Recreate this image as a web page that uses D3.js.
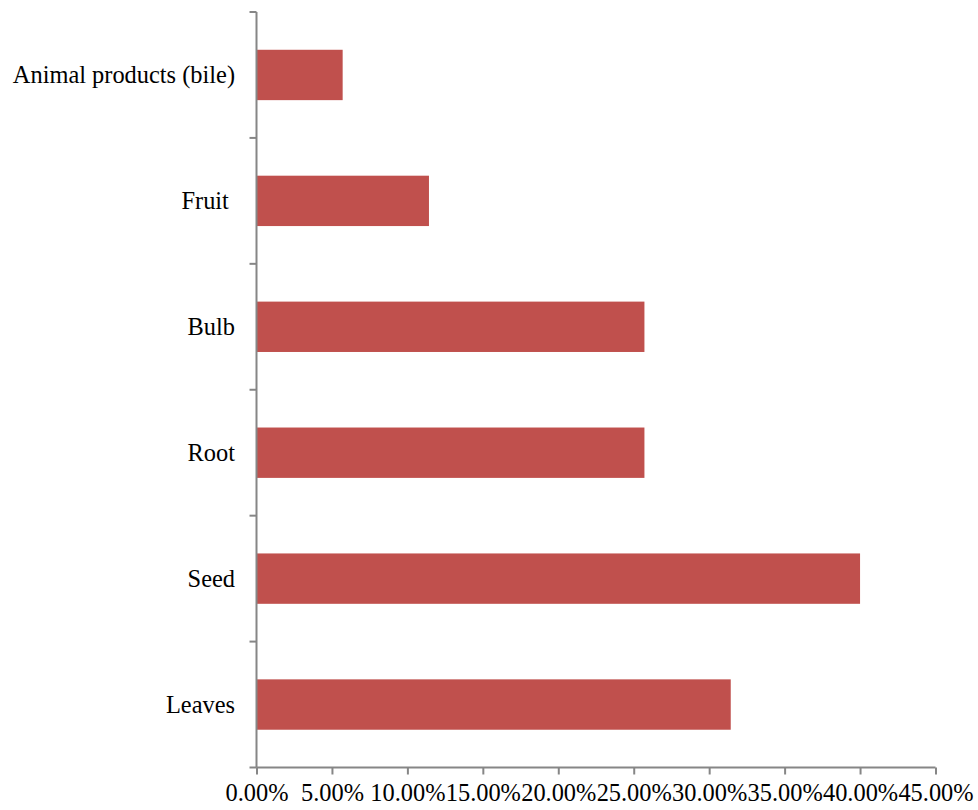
<!DOCTYPE html>
<html><head><meta charset="utf-8">
<script src="https://cdn.jsdelivr.net/npm/d3@7"></script>
<style>body{margin:0;background:#fff}svg{display:block}text{white-space:pre}</style>
</head><body>
<svg id="c" width="978" height="810"></svg>
<script>
const categories = ["Animal products (bile)", "Fruit ", "Bulb", "Root", "Seed", "Leaves"];
const values = [5.71, 11.43, 25.71, 25.71, 40.0, 31.43];
const xTicks = [0, 5, 10, 15, 20, 25, 30, 35, 40, 45];

const svg = d3.select("#c");
const m = {left: 256.5, top: 12, right: 935.5, bottom: 767.5};
const x = d3.scaleLinear().domain([0, 45]).range([m.left, m.right]);
const y = d3.scaleBand().domain(categories).range([m.top, m.bottom]).paddingInner(0.6).paddingOuter(0.3);
const font = "'Liberation Serif','Times New Roman',serif";
const axisColor = "#868686";

svg.selectAll("rect.bar").data(categories).join("rect")
  .attr("x", m.left).attr("y", d => y(d))
  .attr("width", (d, i) => x(values[i]) - x(0))
  .attr("height", y.bandwidth())
  .attr("fill", "#C0504D");

const bounds = d3.range(categories.length + 1).map(i => m.top + i * (m.bottom - m.top) / categories.length);
svg.append("line").attr("x1", m.left).attr("x2", m.left).attr("y1", m.top).attr("y2", m.bottom)
  .attr("stroke", axisColor).attr("stroke-width", 2);
svg.selectAll("line.yt").data(bounds).join("line")
  .attr("x1", m.left - 7).attr("x2", m.left).attr("y1", d => d).attr("y2", d => d)
  .attr("stroke", axisColor).attr("stroke-width", 2);

svg.selectAll("text.yl").data(categories).join("text")
  .attr("x", 235).attr("y", d => y(d) + y.bandwidth() / 2)
  .attr("dy", "0.35em").attr("text-anchor", "end")
  .attr("font-family", font).attr("font-size", 24.4).attr("fill", "#000")
  .text(d => d);

const xAxis = d3.axisBottom(x).tickValues(xTicks).tickSize(7).tickPadding(9)
  .tickFormat(d => d.toFixed(2) + "%");
const gx = svg.append("g").attr("transform", `translate(0,${m.bottom})`).call(xAxis);
gx.select(".domain").attr("stroke", axisColor).attr("stroke-width", 2).attr("d", `M${m.left},0H${m.right}`);
gx.selectAll(".tick line").attr("stroke", axisColor).attr("stroke-width", 2);
gx.selectAll(".tick text").attr("font-family", font).attr("font-size", 24.4).attr("fill", "#000");
</script>
</body></html>
